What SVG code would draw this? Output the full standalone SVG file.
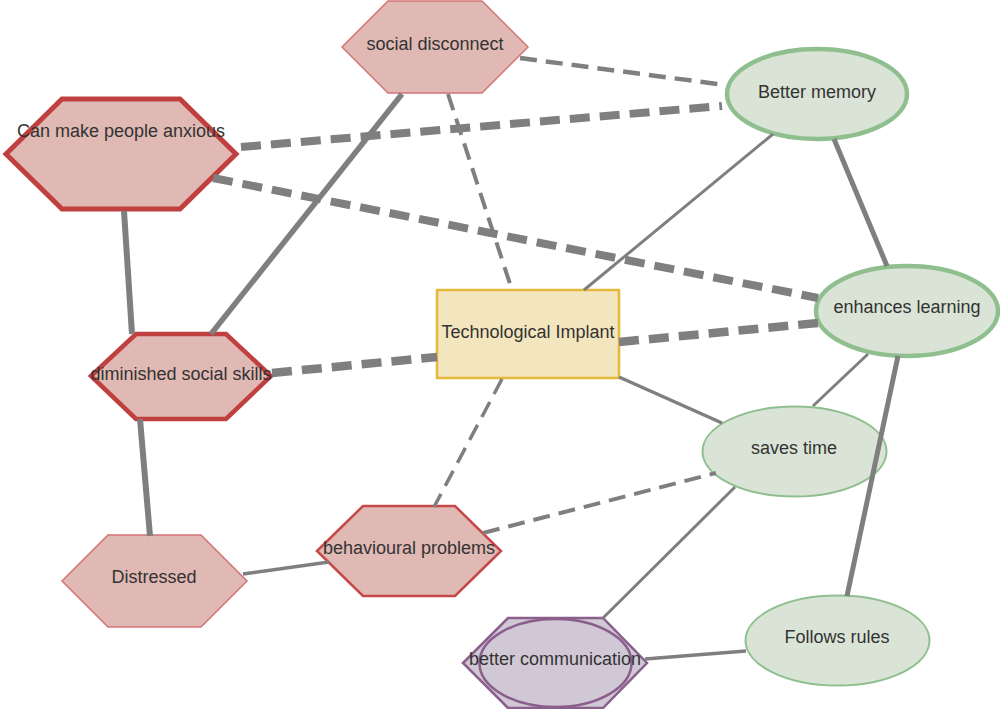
<svg xmlns="http://www.w3.org/2000/svg" width="1000" height="709" viewBox="0 0 1000 709">
<style>
.hex{fill:#e0b8b4}
.hex1{stroke:#d37474;stroke-width:1.5}
.hex2{stroke:#c74848;stroke-width:2.5}
.hex3{stroke:#c04040;stroke-width:4.5}
.ell{fill:#d9e4d6;stroke:#8fbf8f}
.purple{fill:#d0c8d5;stroke:#8a5f8c;stroke-width:2.5}
.lbl{font-family:"Liberation Sans",Arial,sans-serif;font-size:18px;fill:#333333;text-anchor:middle}
.e{stroke:#7f7f7f;fill:none;stroke-linecap:butt}
.d1{stroke-dasharray:17 9}
.d2{stroke-dasharray:20 10}
</style>
<rect x="0" y="0" width="1000" height="709" fill="#ffffff"/>
<g id="node-social-disconnect">
<polygon class="hex hex1" points="342,47 388,1 482,1 528,47 482,93 388,93"/>
<text class="lbl" x="435" y="50">social disconnect</text>
</g>
<g id="node-anxious">
<polygon class="hex hex3" style="stroke-width:5" points="6,154 62,99 180,99 236,154 180,209 62,209"/>
<text class="lbl" x="121" y="137">Can make people anxious</text>
</g>
<g id="node-better-memory">
<ellipse class="ell" style="stroke-width:4.5" cx="817" cy="94" rx="90" ry="45"/>
<text class="lbl" x="817" y="98">Better memory</text>
</g>
<g id="node-enhances-learning">
<ellipse class="ell" style="stroke-width:4.5" cx="907" cy="311" rx="91" ry="45"/>
<text class="lbl" x="907" y="313">enhances learning</text>
</g>
<g id="node-tech-implant">
<rect x="437" y="290" width="182" height="88" fill="#f3e5bd" stroke="#e3b93a" stroke-width="2.5"/>
<text class="lbl" x="528" y="338">Technological Implant</text>
</g>
<g id="node-diminished">
<polygon class="hex hex3" points="91,376 136,334 226,334 271,376 226,419 136,419"/>
<text class="lbl" x="181" y="380">diminished social skills</text>
</g>
<g id="node-distressed">
<polygon class="hex hex1" points="62,581 108,535 201,535 247,581 201,627 108,627"/>
<text class="lbl" x="154" y="583">Distressed</text>
</g>
<g id="node-behavioural">
<polygon class="hex hex2" points="317,551 363,506 455,506 501,551 455,596 363,596"/>
<text class="lbl" x="409" y="554">behavioural problems</text>
</g>
<g id="node-saves-time">
<ellipse class="ell" style="stroke-width:2" cx="794.5" cy="451.5" rx="92" ry="45"/>
<text class="lbl" x="794" y="454">saves time</text>
</g>
<g id="node-follows-rules">
<ellipse class="ell" style="stroke-width:2" cx="837.5" cy="640.5" rx="92" ry="45"/>
<text class="lbl" x="837" y="643">Follows rules</text>
</g>
<g id="node-better-communication">
<polygon class="purple" points="463,663 508,618 603,618 647,663 603,708 508,708"/>
<ellipse class="purple" cx="555.5" cy="663" rx="76" ry="44"/>
<text class="lbl" x="555" y="665">better communication</text>
</g>
<g id="connectors">
<line class="e d1" stroke-width="4.5" x1="520" y1="58" x2="725" y2="85"/>
<line class="e d2" stroke-width="8" x1="241" y1="147" x2="722" y2="106"/>
<line class="e d2" stroke-width="8" x1="213" y1="178" x2="818" y2="298"/>
<line class="e d1" stroke-width="4" x1="448" y1="94" x2="512" y2="290"/>
<line class="e" stroke-width="5.5" x1="402" y1="94" x2="211" y2="334"/>
<line class="e" stroke-width="6" x1="124" y1="211" x2="132" y2="334"/>
<line class="e d2" stroke-width="8.5" x1="272" y1="373" x2="437" y2="357"/>
<line class="e d2" stroke-width="8.5" x1="619" y1="342" x2="818" y2="323"/>
<line class="e" stroke-width="3" x1="584" y1="290" x2="773" y2="134"/>
<line class="e" stroke-width="5" x1="834" y1="139" x2="887" y2="266"/>
<line class="e" stroke-width="3.5" x1="619" y1="377" x2="722" y2="423"/>
<line class="e" stroke-width="3" x1="868" y1="354" x2="813" y2="406"/>
<line class="e" stroke-width="5" x1="898" y1="356" x2="847" y2="596"/>
<line class="e d1" stroke-width="3.5" x1="502" y1="379" x2="434" y2="507"/>
<line class="e d1" stroke-width="4" x1="483" y1="533" x2="716" y2="473"/>
<line class="e" stroke-width="3.5" x1="243" y1="574" x2="329" y2="562"/>
<line class="e" stroke-width="6" x1="140" y1="419" x2="150" y2="536"/>
<line class="e" stroke-width="3" x1="735" y1="487" x2="602" y2="619"/>
<line class="e" stroke-width="3.5" x1="645" y1="659" x2="746" y2="651"/>
</g>
</svg>
